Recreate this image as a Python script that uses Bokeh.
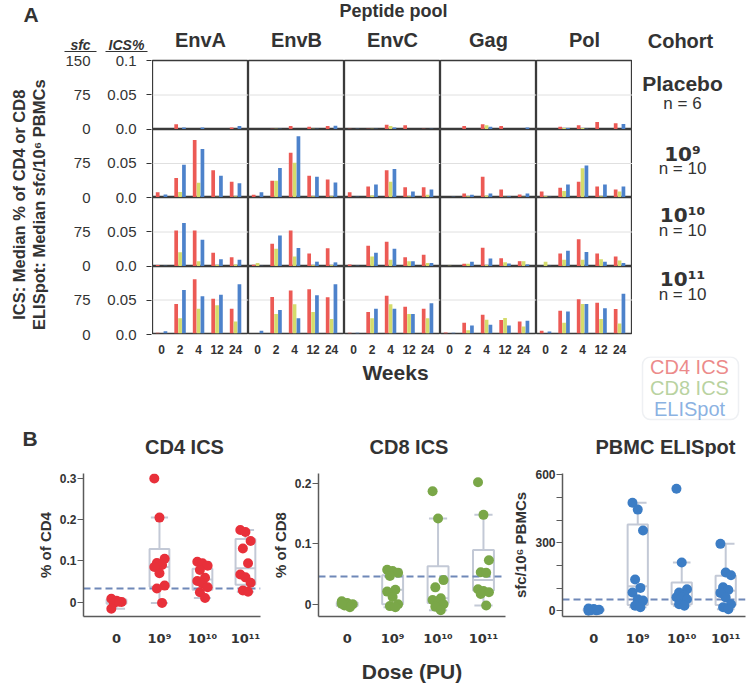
import math
from bokeh.plotting import figure
from bokeh.layouts import row, column
from bokeh.models import Range1d, FixedTicker, Span, ColumnDataSource, BoxAnnotation
from bokeh.transform import dodge
from bokeh.core.properties import value
from bokeh.embed import file_html
from bokeh.resources import INLINE

FONT = "Liberation Sans"
SUPFONT = "DejaVu Sans"
TXT = "#333333"

# ---------------- data: panel A (median responses by week) ----------------
weeks = ["0", "2", "4", "12", "24"]
pools = ["EnvA", "EnvB", "EnvC", "Gag", "Pol"]
cohorts = ["Placebo", "10⁹", "10¹⁰", "10¹¹"]
cohort_n = ["n = 6", "n = 10", "n = 10", "n = 10"]
ics_tick_labels = ["0.0", "0.05", "0.1"]
sfc_tick_labels = ["0", "75", "150"]

# CD4 ICS (% of CD4), one list of 5 weeks per pool (EnvA, EnvB, EnvC, Gag, Pol)
cd4_placebo = [[0, 0.0077, 0, 0, 0.003], [0, 0.001, 0.005, 0.004, 0.005], [0.001, 0.001, 0.007, 0.006, 0.001],
               [0, 0.005, 0.0077, 0.005, 0], [0, 0.004, 0.006, 0.011, 0.009]]
cd4_e9 = [[0.0077, 0.0285, 0.0845, 0.040, 0.023], [0.004, 0.0246, 0.0657, 0.032, 0.0266],
          [0.0077, 0.016, 0.040, 0.015, 0.015], [0, 0.006, 0.0304, 0.0116, 0.0043],
          [0.0087, 0.0145, 0.023, 0.016, 0.0116]]
cd4_e10 = [[0.002, 0.052, 0.052, 0.020, 0.0135], [0.0024, 0.033, 0.052, 0.019, 0.0266],
           [0.003, 0.030, 0.036, 0.0135, 0.017], [0, 0.004, 0.027, 0.012, 0.0077],
           [0, 0.019, 0.0396, 0.019, 0.0145]]
cd4_e11 = [[0.001, 0.044, 0.081, 0.0517, 0.037], [0, 0.0546, 0.064, 0.066, 0.054],
           [0.001, 0.032, 0.0565, 0.040, 0.037], [0.0015, 0.016, 0.028, 0.0203, 0.018],
           [0.004, 0.034, 0.051, 0.046, 0.0367]]

# CD8 ICS (% of CD8)
cd8_placebo = [[0, 0, 0, 0, 0], [0, 0.001, 0, 0.001, 0], [0, 0.001, 0.005, 0, 0],
               [0, 0, 0.006, 0, 0], [0, 0.002, 0.002, 0, 0]]
cd8_e9 = [[0, 0.008, 0.0217, 0.001, 0.002], [0, 0.0246, 0.051, 0.002, 0.002],
          [0, 0.003, 0.023, 0.002, 0.004], [0, 0.002, 0.003, 0.001, 0.001],
          [0.002, 0.0097, 0.043, 0.002, 0.0087]]
cd8_e10 = [[0, 0.0207, 0.0077, 0.002, 0.003], [0.005, 0.0256, 0.0145, 0.002, 0.002],
           [0, 0.0145, 0.0097, 0.0077, 0.005], [0.001, 0.004, 0.002, 0.006, 0.0077],
           [0.007, 0.0097, 0.0097, 0.0106, 0.0087]]
cd8_e11 = [[0, 0.0227, 0.037, 0.042, 0.018], [0, 0.029, 0.0435, 0.032, 0.0217],
           [0, 0.0227, 0.0435, 0.029, 0.0227], [0, 0.005, 0.0207, 0.023, 0.0106],
           [0, 0.016, 0.044, 0.0217, 0.015]]

# ELISpot (sfc / 10^6 PBMCs)
eli_placebo = [[0, 4.5, 4.5, 0, 7.5], [0, 1.5, 0, 1.5, 8], [1.5, 1.5, 4.5, 0, 1.5],
               [0, 0, 6, 0, 4.5], [0, 3, 1.5, 0, 12]]
eli_e9 = [[6.5, 72, 107, 48, 31.5], [11.5, 65, 135, 45.5, 33], [1.5, 28.5, 63, 13, 17.5],
          [1.5, 6, 9, 3, 9], [1.5, 28.5, 70.5, 28.5, 24]]
eli_e10 = [[1.5, 94.5, 58, 16, 14.5], [1.5, 67.5, 40, 10.5, 9], [1.5, 30, 38.5, 11.5, 7.5],
           [0, 10.5, 17.5, 6.5, 4.5], [1.5, 34.5, 31.5, 10.5, 7.5]]
eli_e11 = [[5, 97.5, 83.5, 87, 110], [6, 52.5, 34, 85.5, 110], [1.5, 55.5, 55.5, 43.5, 67.5],
           [1.5, 18, 19.5, 18, 28.5], [4.5, 49.5, 66, 56.5, 89]]

cd4_rows = [cd4_placebo, cd4_e9, cd4_e10, cd4_e11]
cd8_rows = [cd8_placebo, cd8_e9, cd8_e10, cd8_e11]
eli_rows = [eli_placebo, eli_e9, eli_e10, eli_e11]

# ---------------- data: panel B (individual responses by dose) ----------------
doses = ["0", "10⁹", "10¹⁰", "10¹¹"]
cd4_pts = [[0.008, 0.003, 0.0, -0.002, 0.001, -0.016],
           [0.30, 0.205, 0.105, 0.095, 0.09, 0.085, 0.07, 0.04, 0.033, -0.002],
           [0.098, 0.094, 0.088, 0.078, 0.059, 0.051, 0.045, 0.036, 0.024, 0.01],
           [0.175, 0.17, 0.148, 0.13, 0.094, 0.067, 0.06, 0.047, 0.028, 0.025]]
cd4_q1 = [-0.004, 0.037, 0.030, 0.042]
cd4_med = [0.001, 0.085, 0.055, 0.082]
cd4_q3 = [0.006, 0.129, 0.081, 0.153]
cd4_lo = [-0.016, -0.002, 0.010, 0.025]
cd4_hi = [0.008, 0.205, 0.097, 0.175]
cd4_cut = 0.033

cd8_pts = [[0.005, 0.002, 0.0, -0.002, -0.005, 0.001],
           [0.057, 0.055, 0.052, 0.047, 0.024, 0.021, 0.012, 0.0, -0.003, -0.005],
           [0.187, 0.142, 0.04, 0.028, 0.01, 0.007, 0.003, 0.0, -0.004, -0.01],
           [0.202, 0.148, 0.073, 0.053, 0.052, 0.025, 0.022, 0.02, 0.017, -0.002]]
cd8_q1 = [-0.003, 0.0, 0.002, 0.023]
cd8_med = [0.0, 0.024, 0.010, 0.040]
cd8_q3 = [0.003, 0.048, 0.063, 0.090]
cd8_lo = [-0.005, -0.005, -0.010, -0.002]
cd8_hi = [0.005, 0.058, 0.142, 0.148]
cd8_cut = 0.0465

pbmc_pts = [[10, 8, 5, 3, 2, 0],
            [476, 446, 354, 138, 101, 81, 51, 45, 22, 16],
            [538, 213, 95, 81, 68, 60, 59, 51, 29, 22],
            [295, 169, 157, 104, 92, 79, 59, 29, 16, 7]]
pbmc_q1 = [0, 26, 29, 26]
pbmc_med = [3, 108, 59, 88]
pbmc_q3 = [8, 380, 125, 154]
pbmc_lo = [0, 16, 22, 7]
pbmc_hi = [10, 476, 213, 295]
pbmc_cut = 51

RED = "#ec5a55"
YEL = "#d5dc6c"
BLU = "#4d82cb"


def canvas(w, h, flip=True):
    p = figure(width=w, height=h, x_range=Range1d(0, w), y_range=Range1d(h, 0) if flip else Range1d(0, h),
               min_border=0, x_axis_location=None, y_axis_location=None, toolbar_location=None,
               output_backend="svg", outline_line_color=None)
    p.grid.visible = False
    return p


def txt(p, xs, ys, texts, size, style="bold", color=TXT, align="center", baseline="middle", font=FONT, angle=0):
    p.text(x=xs, y=ys, text=texts, text_font=value(font), text_font_size=f"{size}px",
           text_font_style=style, text_color=color, text_align=align, text_baseline=baseline, angle=angle)


# ---------------- panel A geometry ----------------
CW = 96
ROW_H = [69, 68, 69, 68]
TOP_B = 8
BOT_B = 22
X0 = 152
MID_H = TOP_B + sum(ROW_H) + BOT_B  # 304

header = canvas(748, 52)
txt(header, [23], [14], ["A"], 21, align="left")
txt(header, [X0 + CW * 2.5 + 1], [10], ["Peptide pool"], 18)
txt(header, [X0 + CW * (k + 0.5) for k in range(5)], [39.5] * 5, pools, 20)
txt(header, [680], [40], ["Cohort"], 20)
txt(header, [80, 126], [44.5, 44.5], ["sfc", "ICS%"], 14, style="bold italic")
header.segment(x0=[64, 105], y0=[51.2, 51.2], x1=[96, 147], y1=[51.2, 51.2], line_color=TXT, line_width=1.5)

# rotated axis titles
rot = canvas(56, MID_H, flip=False)
txt(rot, [18, 38], [MID_H - 160, MID_H - 160],
    ["ICS: Median % of CD4 or CD8", "ELISpot: Median sfc/10⁶ PBMCs"], 16.5, angle=math.pi / 2)


def axis_fig(width, yr, ticks, labels_for, tick_out, standoff, tick_color):
    p = figure(width=width, height=MID_H, x_range=Range1d(0, 1), y_range=Range1d(*yr),
               min_border_left=width - 1, min_border_right=0, min_border_top=TOP_B, min_border_bottom=BOT_B,
               x_axis_location=None, y_axis_location="left", toolbar_location=None,
               output_backend="svg", outline_line_color=None)
    p.grid.visible = False
    a = p.yaxis[0]
    a.ticker = FixedTicker(ticks=ticks)
    a.major_label_overrides = {t: labels_for(t) for t in ticks}
    a.axis_line_color = None
    a.major_tick_out = tick_out
    a.major_tick_in = 0
    a.major_tick_line_color = tick_color
    a.minor_tick_line_color = None
    a.major_label_standoff = standoff
    a.major_label_text_font = FONT
    a.major_label_text_font_size = "15px"
    a.major_label_text_color = TXT
    return p


sfc_ticks = list(range(0, 601, 75))
sfc_fig = axis_fig(44, (0, 600), sfc_ticks,
                   lambda t: sfc_tick_labels[2] if t == 600 else sfc_tick_labels[(t % 150) // 75],
                   0, 9, None)
ics_ticks = list(range(0, 401, 50))
ics_fig = axis_fig(52, (0, 400), ics_ticks,
                   lambda t: ics_tick_labels[2] if t == 400 else ics_tick_labels[(t % 100) // 50],
                   5, 10, TXT)


def cell(ci, pi, h, top, bottom):
    p = figure(width=CW, height=h + top + bottom, x_range=Range1d(-0.49, 4.7), y_range=Range1d(0, 0.1),
               min_border_left=0, min_border_right=0, min_border_top=top, min_border_bottom=bottom,
               x_axis_location="below" if bottom else None, y_axis_location=None,
               toolbar_location=None, output_backend="svg",
               outline_line_color="#3a3a3a", outline_line_width=1.3)
    p.extra_y_ranges = {"sfc": Range1d(0, 150)}
    p.grid.visible = False
    p.add_layout(Span(location=0.05, dimension="width", line_color="#e0e0e0", line_width=1, level="underlay"))
    src = ColumnDataSource(dict(x=list(range(len(weeks))), cd4=cd4_rows[ci][pi],
                                cd8=cd8_rows[ci][pi], eli=eli_rows[ci][pi]))
    p.vbar(x=dodge("x", -0.21), top="cd4", width=0.2, source=src, fill_color=RED, line_color=None)
    p.vbar(x="x", top="cd8", width=0.2, source=src, fill_color=YEL, line_color=None)
    p.vbar(x=dodge("x", 0.21), top="eli", width=0.2, source=src, fill_color=BLU, line_color=None,
           y_range_name="sfc")
    if bottom:
        ax = p.xaxis[0]
        ax.ticker = FixedTicker(ticks=list(range(len(weeks))))
        ax.major_label_overrides = {i: w for i, w in enumerate(weeks)}
        ax.axis_line_color = None
        ax.major_tick_line_color = None
        ax.minor_tick_line_color = None
        ax.major_label_standoff = 5
        ax.major_label_text_font = FONT
        ax.major_label_text_font_size = "12px"
        ax.major_label_text_font_style = "bold"
        ax.major_label_text_color = TXT
    return p


cell_rows = []
for ci in range(4):
    top = TOP_B if ci == 0 else 0
    bottom = BOT_B if ci == 3 else 0
    cell_rows.append(row(*[cell(ci, pi, ROW_H[ci], top, bottom) for pi in range(5)]))

rf = canvas(116, MID_H)
txt(rf, [50], [25], cohorts[:1], 21)
txt(rf, [50] * 3, [103.5, 171.5, 242], cohorts[1:], 20, font=SUPFONT)
txt(rf, [50] * 4, [48, 119.5, 188.5, 259.5], cohort_n, 17, style="normal")

footer = canvas(748, 69)
txt(footer, [395], [15.5], ["Weeks"], 21)
footer.add_layout(BoxAnnotation(left=642, right=738, top=0.5, bottom=63, fill_color="white",
                                line_color="#c8ccd6", line_width=1.5, border_radius=8))
txt(footer, [689] * 3, [10.5, 31.5, 52], ["CD4 ICS", "CD8 ICS", "ELISpot"], 20, style="normal",
    color=["#e03c3c", "#8bb562", "#3f7fcf"])

# ---------------- panel B ----------------
headerB = canvas(748, 32)
txt(headerB, [22], [13], ["B"], 21, align="left")
txt(headerB, [184, 408.5, 665], [21.5] * 3, ["CD4 ICS", "CD8 ICS", "PBMC ELISpot"], 20)

BOXC = "#c3c9d6"
PB_H = 228


def dose_panel(width, mbl, mbr, mbt, frame_h, xr, yr, pts, q1, med, q3, lo, hi, cut, color,
               yticks, ylabel, yminor=None, xlabel=None, tick_standoff=2, label_standoff=3):
    p = figure(width=width, height=PB_H, x_range=Range1d(*xr), y_range=Range1d(*yr),
               min_border_left=mbl, min_border_right=mbr, min_border_top=mbt,
               min_border_bottom=PB_H - mbt - frame_h, toolbar_location=None, output_backend="svg",
               outline_line_color=None)
    p.grid.visible = False
    xs = list(range(len(doses)))
    bsrc = ColumnDataSource(dict(x=xs, q1=q1, med=med, q3=q3, lo=lo, hi=hi,
                                 fill=["#d3d7e0", "white", "white", "white"]))
    p.segment(x0="x", y0="q3", x1="x", y1="hi", source=bsrc, line_color=BOXC, line_width=2)
    p.segment(x0="x", y0="q1", x1="x", y1="lo", source=bsrc, line_color=BOXC, line_width=2)
    p.segment(x0=dodge("x", -0.2), y0="hi", x1=dodge("x", 0.2), y1="hi", source=bsrc, line_color=BOXC, line_width=2)
    p.segment(x0=dodge("x", -0.2), y0="lo", x1=dodge("x", 0.2), y1="lo", source=bsrc, line_color=BOXC, line_width=2)
    p.vbar(x="x", bottom="q1", top="q3", width=0.46, source=bsrc, fill_color="fill", line_color=BOXC, line_width=2)
    p.segment(x0=dodge("x", -0.23), y0="med", x1=dodge("x", 0.23), y1="med", source=bsrc,
              line_color=BOXC, line_width=2)
    p.hspan(y=[cut], line_color="#6f88b8", line_width=2, line_dash="7 4")
    px, py = [], []
    for g, vals in enumerate(pts):
        for i, v in enumerate(vals):
            px.append(g + ((i * 7) % 5 - 2) * 0.06)
            py.append(v)
    p.scatter(x=px, y=py, size=10, fill_color=color, line_color=None)

    ya = p.yaxis[0]
    ya.ticker = FixedTicker(ticks=yticks, minor_ticks=yminor or [])
    ya.axis_line_color = "#5a5a5a"
    ya.axis_line_width = 1.5
    ya.major_tick_line_color = "#5a5a5a"
    ya.major_tick_out = 6
    ya.major_tick_in = 0
    ya.minor_tick_line_color = "#5a5a5a" if yminor else None
    ya.minor_tick_out = 6
    ya.minor_tick_in = 0
    ya.major_label_standoff = tick_standoff
    ya.major_label_text_font = FONT
    ya.major_label_text_font_size = "12px"
    ya.major_label_text_font_style = "bold"
    ya.major_label_text_color = TXT
    ya.axis_label = ylabel
    ya.axis_label_standoff = label_standoff
    ya.axis_label_text_font = FONT
    ya.axis_label_text_font_size = "15px"
    ya.axis_label_text_font_style = "bold"
    ya.axis_label_text_color = TXT

    xa = p.xaxis[0]
    xa.ticker = FixedTicker(ticks=xs)
    xa.major_label_overrides = {i: d for i, d in enumerate(doses)}
    xa.axis_line_color = "#5a5a5a"
    xa.axis_line_width = 1.5
    xa.major_tick_line_color = None
    xa.minor_tick_line_color = None
    xa.major_label_standoff = 8
    xa.major_label_text_font = SUPFONT
    xa.major_label_text_font_size = "13px"
    xa.major_label_text_font_style = "bold"
    xa.major_label_text_color = TXT
    if xlabel:
        xa.axis_label = xlabel
        xa.axis_label_standoff = 11
        xa.axis_label_text_font = FONT
        xa.axis_label_text_font_size = "21px"
        xa.axis_label_text_font_style = "bold"
        xa.axis_label_text_color = TXT
    return p


cd4f = dose_panel(263, 83, 3, 16, 149, (-0.767, 3.35), (-0.035, 0.312), cd4_pts, cd4_q1, cd4_med, cd4_q3,
                  cd4_lo, cd4_hi, cd4_cut, "#e8303a", [0, 0.1, 0.2, 0.3], "% of CD4",
                  tick_standoff=1, label_standoff=3)
cd8f = dose_panel(245, 55, 3, 16, 149, (-0.632, 3.485), (-0.0202, 0.2164), cd8_pts, cd8_q1, cd8_med, cd8_q3,
                  cd8_lo, cd8_hi, cd8_cut, "#7aa748", [0, 0.1, 0.2], "% of CD8", xlabel="Dose (PU)",
                  tick_standoff=1, label_standoff=3)
pbf = dose_panel(240, 54, 3, 5, 160, (-0.711, 3.45), (-25, 605), pbmc_pts, pbmc_q1, pbmc_med, pbmc_q3,
                 pbmc_lo, pbmc_hi, pbmc_cut, "#3c7dc5", [0, 300, 600], "sfc/10⁶ PBMCs",
                 yminor=[100, 200, 400, 500], tick_standoff=1, label_standoff=3)

layout = column(header,
                row(rot, sfc_fig, ics_fig, column(*cell_rows), rf),
                footer, headerB,
                row(cd4f, cd8f, pbf))

open("out.html", "w").write(file_html(layout, INLINE))
